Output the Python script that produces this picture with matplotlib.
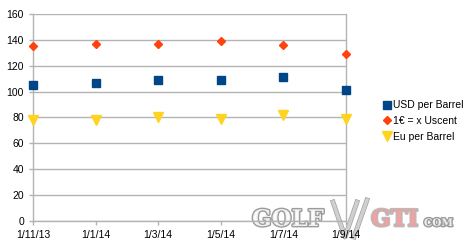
import numpy as np
import matplotlib.pyplot as plt
import matplotlib.patheffects as pe
from matplotlib.lines import Line2D

plt.rcParams['font.family'] = ['Liberation Sans', 'DejaVu Sans']

dates = ["1/11/13", "1/1/14", "1/3/14", "1/5/14", "1/7/14", "1/9/14"]
usd_per_barrel = [105, 107, 109, 109, 111, 101]
eur_rate = [135, 137, 137, 139, 136, 129]
eu_per_barrel = [78, 78, 80, 79, 82, 79]

fig = plt.figure(figsize=(4.66, 2.44), dpi=100)
ax = fig.add_axes([0.0708, 0.0943, 0.6717, 0.8483])
ax.patch.set_alpha(0)
x = np.arange(len(dates))

ax.plot(x, usd_per_barrel, ls="none", marker="s", ms=6.2, color="#004586", label="USD per Barrel", clip_on=False, zorder=3)
ax.plot(x, eur_rate, ls="none", marker="D", ms=4.5, color="#ff420e", label="1€ = x Uscent", clip_on=False, zorder=3)
ax.plot(x, eu_per_barrel, ls="none", marker="v", ms=7, color="#ffd320", label="Eu per Barrel", clip_on=False, zorder=3)

ax.set_xlim(0, len(dates) - 1)
ax.set_ylim(0, 160)
ax.set_yticks(range(0, 161, 20))
ax.set_xticks(x)
ax.set_xticklabels(dates)
ax.grid(axis="y", color="#b3b3b3", lw=1)
ax.set_axisbelow(True)
ax.spines["top"].set_visible(False)
for s in ["left", "bottom", "right"]:
    ax.spines[s].set_color("#b3b3b3")
    ax.spines[s].set_linewidth(1)
ax.tick_params(axis="both", colors="#b3b3b3", labelcolor="black", labelsize=7.5, length=3, width=1)

leg = ax.legend(loc="center left", bbox_to_anchor=(1.1, 0.483), frameon=False, fontsize=7.5,
                handletextpad=0.1, handlelength=1.0, borderaxespad=0, labelspacing=0.55)

# watermark, kept behind the axes
grey = [pe.withStroke(linewidth=2, foreground="#8a8a8a")]
pink = [pe.withStroke(linewidth=2, foreground="#b0b0b0")]
base = 1 - 226 / 244
fig.text(252 / 466, base, "GOLF", fontsize=16.5, fontweight="bold", family="DejaVu Serif",
         color="white", va="baseline", path_effects=grey, alpha=0.85, zorder=-1)
fig.text(371 / 466, base, "GTI", fontsize=16.5, fontweight="bold", family="DejaVu Serif",
         color="#f4a0a0", va="baseline", path_effects=pink, alpha=0.85, zorder=-1)
fig.text(424 / 466, base, "COM", fontsize=7.5, fontweight="bold", family="DejaVu Serif",
         color="white", va="baseline", path_effects=grey, alpha=0.85, zorder=-1)
for xs, ys in [([333, 345, 357], [202, 237, 202]), ([367, 354], [200, 237])]:
    fig.add_artist(Line2D(np.array(xs) / 466, 1 - np.array(ys) / 244, lw=2.5, color="#e4e4e4",
                          alpha=0.7, path_effects=[pe.withStroke(linewidth=3.5, foreground="#a0a0a0")],
                          zorder=-1))

fig.savefig("out.png", dpi=100)
